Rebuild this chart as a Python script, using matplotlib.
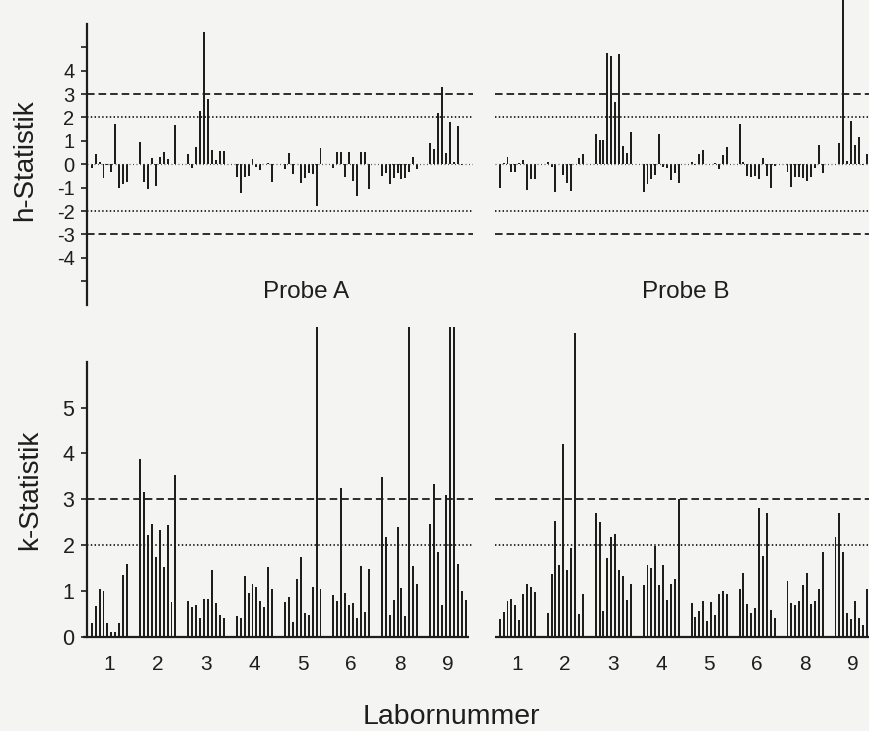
import matplotlib
matplotlib.use("Agg")
import matplotlib.pyplot as plt
import numpy as np
from matplotlib.ticker import FixedLocator, FixedFormatter

plt.rcParams['font.family'] = ['Liberation Sans', 'DejaVu Sans']

labs = ['1', '2', '3', '4', '5', '6', '8', '9']

h_A = [
    [-0.17, 0.44, 0.11, -0.60, -0.05, -0.31, 1.72, -1.00, -0.84, -0.77],
    [0.94, -0.77, -1.07, 0.28, -0.91, 0.33, 0.51, 0.23, 0.02, 1.68],
    [0.44, -0.17, 0.73, 2.29, 5.67, 2.79, 0.61, 0.19, 0.58, 0.58],
    [-0.53, -1.21, -0.53, -0.50, 0.21, -0.10, -0.24, 0.03, 0.07, -0.77],
    [-0.21, 0.47, -0.41, 0.02, -0.78, -0.60, -0.36, -0.41, -1.77, 0.68],
    [-0.17, 0.51, 0.51, -0.53, 0.51, -0.70, -1.34, 0.51, 0.51, -1.07],
    [-0.50, -0.36, -0.85, -0.60, -0.38, -0.63, -0.60, -0.31, 0.33, -0.20],
    [0.90, 0.66, 2.21, 3.32, 0.50, 1.79, 0.11, 1.64, -0.03, 0.02],
]
h_B = [
    [-1.03, 0.05, 0.33, -0.31, -0.31, 0.05, 0.19, -1.10, -0.64, -0.63],
    [0.11, -0.10, -1.17, 0.00, -0.46, -0.78, -1.13, 0.02, 0.26, 0.43],
    [1.28, 1.04, 1.04, 4.77, 4.64, 2.65, 4.70, 0.78, 0.47, 1.37],
    [-1.20, -0.84, -0.64, -0.46, 1.30, -0.10, -0.14, -0.67, -0.38, -0.78],
    [0.10, -0.03, 0.44, 0.61, 0.00, 0.03, 0.07, -0.21, 0.40, 0.73],
    [1.72, 0.11, -0.48, -0.53, -0.48, -0.64, 0.26, -0.50, -1.00, -0.06],
    [-0.34, -0.98, -0.53, -0.53, -0.60, -0.70, -0.55, -0.14, 0.83, -0.38],
    [0.02, 0.90, 7.50, 0.14, 1.85, 0.83, 1.16, -0.05, 0.43, 0.30],
]
k_A = [
    [0.31, 0.68, 1.05, 0.99, 0.31, 0.10, 0.10, 0.29, 1.35, 1.58],
    [3.89, 3.15, 2.23, 2.46, 1.73, 2.34, 1.53, 2.43, 0.76, 3.52],
    [0.78, 0.64, 0.69, 0.40, 0.83, 0.83, 1.45, 0.74, 0.47, 0.41],
    [0.45, 0.41, 1.32, 0.96, 1.16, 1.08, 0.77, 0.64, 1.52, 1.04],
    [0.76, 0.86, 0.32, 1.27, 1.74, 0.51, 0.47, 1.09, 7.00, 1.05],
    [0.91, 0.78, 3.25, 0.96, 0.70, 0.74, 0.40, 1.55, 0.54, 1.48],
    [3.49, 2.17, 0.48, 0.81, 2.40, 1.07, 0.45, 7.00, 1.55, 1.14],
    [2.46, 3.34, 1.85, 0.70, 3.10, 7.00, 7.00, 1.58, 1.00, 0.80],
]
k_B = [
    [0.39, 0.55, 0.78, 0.83, 0.70, 0.36, 0.93, 1.15, 1.08, 0.97],
    [0.52, 1.37, 2.53, 1.56, 4.20, 1.45, 1.93, 6.62, 0.49, 0.93],
    [2.69, 2.50, 0.57, 1.72, 2.17, 2.25, 1.45, 1.32, 0.81, 1.16],
    [1.13, 1.56, 1.49, 1.98, 1.12, 1.56, 0.80, 1.16, 1.26, 3.00],
    [0.73, 0.43, 0.57, 0.78, 0.35, 0.76, 0.47, 0.93, 0.99, 0.93],
    [1.05, 1.38, 0.71, 0.52, 0.63, 2.81, 1.76, 2.70, 0.59, 0.41],
    [1.21, 0.73, 0.70, 0.78, 1.13, 1.38, 0.71, 0.78, 1.04, 1.85],
    [2.17, 2.69, 1.84, 0.51, 0.38, 0.78, 0.41, 0.26, 1.05, 0.60],
]
h_ticks = [-5, -4, -3, -2, -1, 0, 1, 2, 3, 4, 5]
h_ticklabels = ['', '-4', '-3', '-2', '-1', '0', '1', '2', '3', '4', '']
k_ticks = [0, 1, 2, 3, 4, 5]
k_ticklabels = ['0', '1', '2', '3', '4', '5']

BG = '#f4f4f2'
INK = '#1e1e1e'
W, H = 870, 731
fig = plt.figure(figsize=(W / 100, H / 100), dpi=100, facecolor=BG)

PERIOD = 12.3
XL = (-1.2, 97.0)

def fx(px):
    return px / W

def positions(data):
    xs, ys = [], []
    for g, vals in enumerate(data):
        for j, v in enumerate(vals):
            xs.append(g * PERIOD + j)
            ys.append(v)
    return np.array(xs), np.array(ys)

dash_kw = dict(color=INK, lw=1.3, linestyle=(0, (4.2, 2.2)))
dot_kw = dict(color=INK, lw=1.3, linestyle=(0, (0.8, 1.3)))
zero_kw = dict(color='#555555', lw=0.9, linestyle=(0, (0.8, 2.0)))

h_top_px, h_bot_px = 0.0, 304.7
k_top_px, k_bot_px = 326.6, 636.7
left_L, width_L = 87.0, 386.0
left_R, width_R = 495.0, 383.0

def make_ax(left, width, top, bot):
    return fig.add_axes([fx(left), 1 - bot / H, width / W, (bot - top) / H])

axes = {}
axes['hA'] = make_ax(left_L, width_L, h_top_px, h_bot_px)
axes['hB'] = make_ax(left_R, width_R, h_top_px, h_bot_px)
axes['kA'] = make_ax(left_L, width_L, k_top_px, k_bot_px)
axes['kB'] = make_ax(left_R, width_R, k_top_px, k_bot_px)

for key, data in [('hA', h_A), ('hB', h_B), ('kA', k_A), ('kB', k_B)]:
    ax = axes[key]
    ax.set_facecolor('none')
    xs, ys = positions(data)
    ax.bar(xs, ys, width=0.5, color=INK, linewidth=0)
    ax.set_xlim(*XL)
    for s in ['top', 'right', 'bottom']:
        ax.spines[s].set_visible(False)
    if key.startswith('h'):
        ax.set_ylim(-6, 7.02)
        ax.axhline(0, **zero_kw)
        for yv in (3, -3):
            ax.axhline(yv, **dash_kw)
        for yv in (2, -2):
            ax.axhline(yv, **dot_kw)
        ax.set_xticks([])
    else:
        ax.set_ylim(0, 6.77)
        ax.axhline(3, **dash_kw)
        ax.axhline(2, **dot_kw)
        ax.plot([XL[0] - 1.0 if key == 'kA' else XL[0], 96.0], [0, 0],
                color=INK, lw=1.6, clip_on=False, solid_capstyle='butt')
        centers = [g * PERIOD + 4.5 for g in range(len(labs))]
        ax.set_xticks(centers)
        ax.set_xticklabels(labs, fontsize=15)
        ax.tick_params(axis='x', length=0, pad=13, colors=INK)

    if key.endswith('A'):
        ax.spines['left'].set_linewidth(1.6)
        ax.spines['left'].set_color(INK)
        if key == 'hA':
            ax.spines['left'].set_bounds(-6, 6)
            ax.yaxis.set_major_locator(FixedLocator(h_ticks))
            ax.yaxis.set_major_formatter(FixedFormatter(h_ticklabels))
            ax.tick_params(axis='y', labelsize=14.5)
        else:
            ax.spines['left'].set_bounds(0, 6)
            ax.yaxis.set_major_locator(FixedLocator(k_ticks))
            ax.yaxis.set_major_formatter(FixedFormatter(k_ticklabels))
            ax.tick_params(axis='y', labelsize=15.5)
        ax.tick_params(axis='y', direction='out', length=4, width=1.2, pad=5, colors=INK)
    else:
        ax.spines['left'].set_visible(False)
        ax.set_yticks([])

fig.text(fx(25), 1 - 160 / H, 'h-Statistik', rotation=90, ha='center', va='center',
         fontsize=20, color=INK)
fig.text(fx(30), 1 - 490 / H, 'k-Statistik', rotation=90, ha='center', va='center',
         fontsize=20, color=INK)
fig.text(fx(306), 1 - 292 / H, 'Probe A', ha='center', va='center', fontsize=17.5, color=INK)
fig.text(fx(686), 1 - 292 / H, 'Probe B', ha='center', va='center', fontsize=17.5, color=INK)
fig.text(fx(451), 1 - 717 / H, 'Labornummer', ha='center', va='center', fontsize=20.5, color=INK)

fig.savefig('out.png', dpi=100, facecolor=BG)
